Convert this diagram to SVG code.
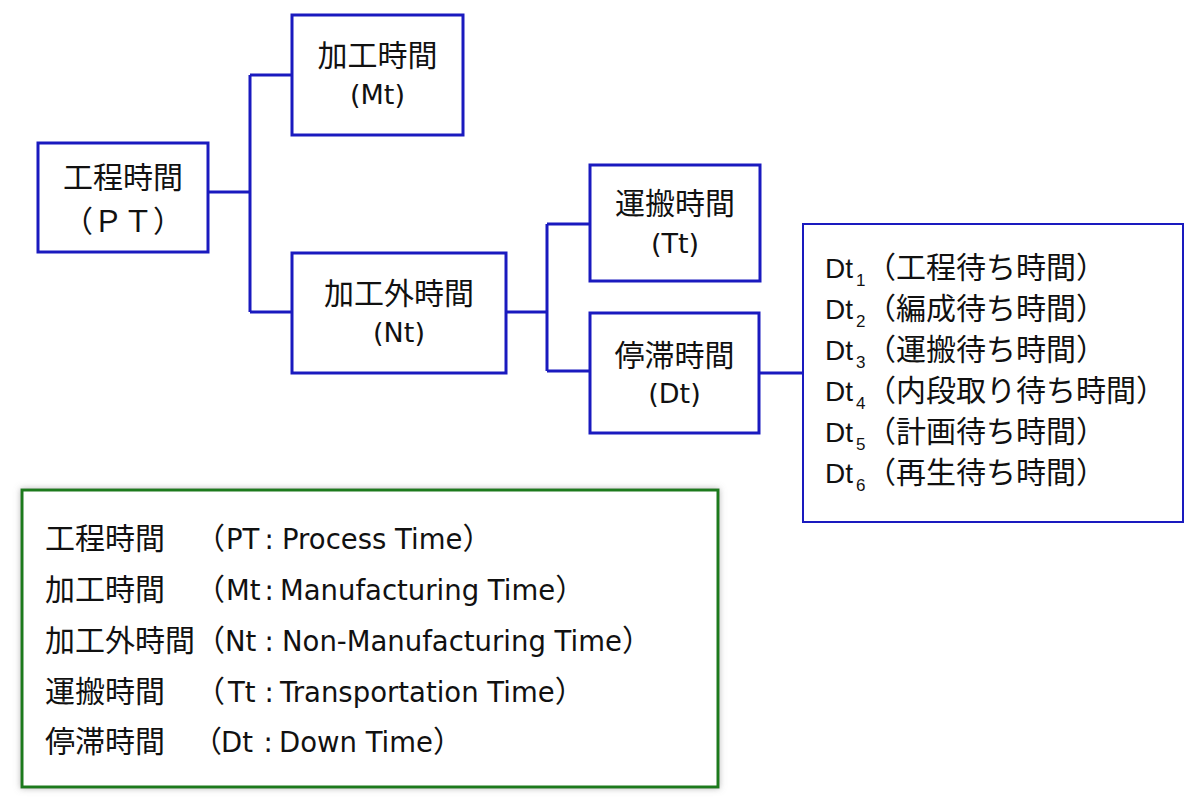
<svg xmlns="http://www.w3.org/2000/svg" width="1200" height="806" viewBox="0 0 1200 806">
<defs>
<style>
.box{fill:#fff;stroke:#1a1abf;stroke-width:3}
.thin{stroke-width:2}
.ln{fill:none;stroke:#1a1abf;stroke-width:3}
text{fill:#111}
.j{font-family:"Noto Sans CJK JP",sans-serif;font-size:30px}
.l{font-family:"DejaVu Sans","Noto Sans CJK JP",sans-serif;font-size:27px}
.lg{font-family:"DejaVu Sans","Noto Sans CJK JP",sans-serif;font-size:27.5px}
.a{font-family:"Liberation Sans","Noto Sans CJK JP",sans-serif;font-size:28px}
.c{text-anchor:middle}
.sub{font-family:"Liberation Sans",sans-serif;font-size:17px}
</style>
<filter id="sh" x="-5%" y="-5%" width="110%" height="110%">
<feDropShadow dx="0" dy="0" stdDeviation="3" flood-color="#888" flood-opacity="0.6"/>
</filter>
</defs>
<rect width="1200" height="806" fill="#fff"/>
<g id="connectors">
<path class="ln" d="M208,192 H250 M250,75 V312 M250,75 H292 M250,312 H292"/>
<path class="ln" d="M506,312 H547 M547,224 V371 M547,224 H590"/>
<path class="ln thin" d="M547,371 H590 M759,373 H803"/>
</g>
<g id="pt">
<rect class="box" x="38" y="143" width="170" height="109"/>
<text class="j c" x="123" y="188">工程時間</text>
<text class="j c" x="123" y="232">（ＰＴ）</text>
</g>
<g id="mt">
<rect class="box" x="292" y="15" width="171" height="120"/>
<text class="j c" x="377.5" y="66">加工時間</text>
<text class="l c" x="377.5" y="104">(Mt)</text>
</g>
<g id="nt">
<rect class="box" x="292" y="253" width="214" height="120"/>
<text class="j c" x="399" y="304">加工外時間</text>
<text class="l c" x="399" y="342">(Nt)</text>
</g>
<g id="tt">
<rect class="box" x="590" y="165" width="170" height="116"/>
<text class="j c" x="675" y="214">運搬時間</text>
<text class="l c" x="675" y="253">(Tt)</text>
</g>
<g id="dt">
<rect class="box" x="590" y="313" width="169" height="120"/>
<text class="j c" x="674.5" y="366">停滞時間</text>
<text class="l c" x="674.5" y="403">(Dt)</text>
</g>
<g id="dtlist">
<rect class="box thin" x="803" y="224" width="380" height="298"/>
<text class="a" x="825" y="278">Dt<tspan class="sub" x="856" dy="8">1</tspan><tspan class="j" x="866" dy="-8">（工程待ち時間）</tspan></text>
<text class="a" x="825" y="319">Dt<tspan class="sub" x="856" dy="8">2</tspan><tspan class="j" x="866" dy="-8">（編成待ち時間）</tspan></text>
<text class="a" x="825" y="360">Dt<tspan class="sub" x="856" dy="8">3</tspan><tspan class="j" x="866" dy="-8">（運搬待ち時間）</tspan></text>
<text class="a" x="825" y="401">Dt<tspan class="sub" x="856" dy="8">4</tspan><tspan class="j" x="866" dy="-8">（内段取り待ち時間）</tspan></text>
<text class="a" x="825" y="442">Dt<tspan class="sub" x="856" dy="8">5</tspan><tspan class="j" x="866" dy="-8">（計画待ち時間）</tspan></text>
<text class="a" x="825" y="483">Dt<tspan class="sub" x="856" dy="8">6</tspan><tspan class="j" x="866" dy="-8">（再生待ち時間）</tspan></text>
</g>
<g id="legend">
<rect x="22" y="490" width="696" height="297" fill="#fff" stroke="#1f7a1f" stroke-width="3" filter="url(#sh)"/>
<text y="549"><tspan class="j" x="45">工程時間</tspan><tspan class="j" x="195">（</tspan><tspan class="lg" x="226">PT</tspan><tspan class="lg" x="264.5">:</tspan><tspan class="lg" x="282">Process Time</tspan><tspan class="j">）</tspan></text>
<text y="600"><tspan class="j" x="45">加工時間</tspan><tspan class="j" x="195">（</tspan><tspan class="lg" x="226">Mt</tspan><tspan class="lg" x="264.5">:</tspan><tspan class="lg" x="280">Manufacturing Time</tspan><tspan class="j">）</tspan></text>
<text y="651"><tspan class="j" x="45">加工外時間</tspan><tspan class="j" x="195">（</tspan><tspan class="lg" x="225">Nt</tspan><tspan class="lg" x="264.5">:</tspan><tspan class="lg" x="282">Non-Manufacturing Time</tspan><tspan class="j">）</tspan></text>
<text y="702"><tspan class="j" x="45">運搬時間</tspan><tspan class="j" x="195">（</tspan><tspan class="lg" x="228">Tt</tspan><tspan class="lg" x="264.5">:</tspan><tspan class="lg" x="280">Transportation Time</tspan><tspan class="j">）</tspan></text>
<text y="752"><tspan class="j" x="45">停滞時間</tspan><tspan class="j" x="192">（</tspan><tspan class="lg" x="221">Dt</tspan><tspan class="lg" x="263.5">:</tspan><tspan class="lg" x="279">Down Time</tspan><tspan class="j">）</tspan></text>
</g>
</svg>
